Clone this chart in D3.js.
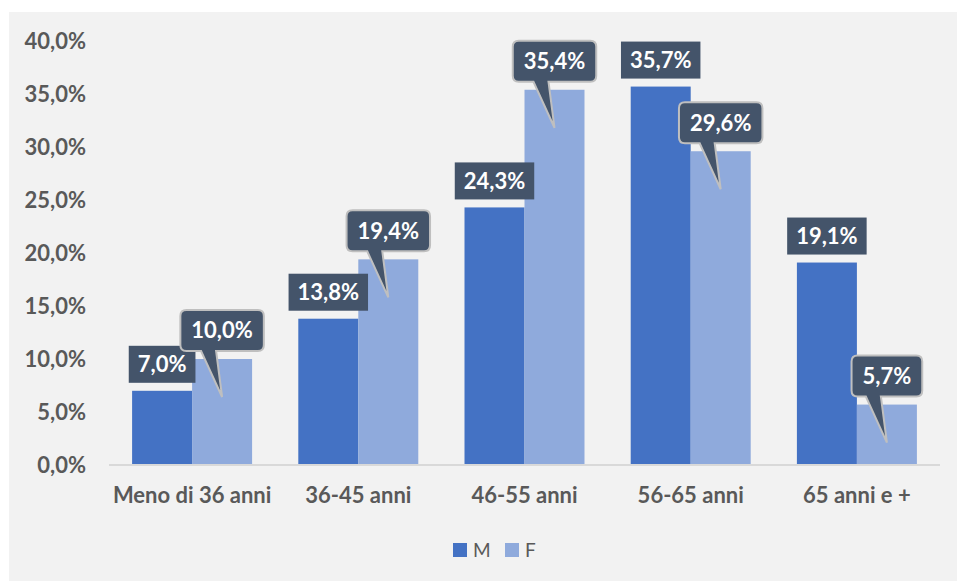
<!DOCTYPE html>
<html>
<head>
<meta charset="utf-8">
<script src="https://d3js.org/d3.v7.min.js"></script>
<style>
  body { margin: 0; background: #ffffff; }
  text { font-family: Lato, "Open Sans", sans-serif; }
</style>
</head>
<body>
<div id="chart"></div>
<script>
// dati
var categorie = ["Meno di 36 anni", "36-45 anni", "46-55 anni", "56-65 anni", "65 anni e +"];
var serieM = [7.0, 13.8, 24.3, 35.7, 19.1];
var serieF = [10.0, 19.4, 35.4, 29.6, 5.7];
var nomiSerie = ["M", "F"];
var coloriSerie = ["#4472c4", "#8faadc"];
var tickValori = [0, 5, 10, 15, 20, 25, 30, 35, 40];

var larghezza = 957, altezza = 581;
var sx = 109, dx = 940, alto = 41, base = 465;
var fs = "22px";

var it = d3.formatLocale({decimal: ",", thousands: ".", grouping: [3], currency: ["€", ""]});
var fmt = function(v) { return it.format(".1f")(v) + "%"; };

var svg = d3.select("#chart").append("svg")
  .attr("width", larghezza)
  .attr("height", altezza);

svg.append("rect")
  .attr("x", 9).attr("y", 12)
  .attr("width", larghezza - 9).attr("height", altezza - 12)
  .attr("fill", "#f2f2f2");

var x0 = d3.scaleBand().domain(categorie).range([sx, dx])
  .paddingInner(0.278).paddingOuter(0.139);
var x1 = d3.scaleBand().domain(nomiSerie).range([0, x0.bandwidth()]);
var y = d3.scaleLinear().domain([0, 40]).range([base, alto]);

// asse y
var yAxis = d3.axisLeft(y).tickValues(tickValori).tickSize(0).tickPadding(23).tickFormat(fmt);
var gy = svg.append("g").attr("transform", "translate(" + sx + ",0)").call(yAxis);
gy.select(".domain").remove();
gy.selectAll("text")
  .attr("fill", "#595959")
  .style("font-size", fs)
  .style("font-weight", "bold")
  .style("font-family", "Lato, sans-serif");

// barre
var righe = categorie.map(function(c, i) {
  return {cat: c, valori: [{s: "M", v: serieM[i]}, {s: "F", v: serieF[i]}]};
});

var gruppi = svg.selectAll(".gruppo").data(righe).enter().append("g")
  .attr("class", "gruppo")
  .attr("transform", function(d) { return "translate(" + x0(d.cat) + ",0)"; });

gruppi.selectAll("rect").data(function(d) { return d.valori; }).enter().append("rect")
  .attr("x", function(d) { return x1(d.s); })
  .attr("y", function(d) { return y(d.v); })
  .attr("width", x1.bandwidth())
  .attr("height", function(d) { return base - y(d.v); })
  .attr("fill", function(d) { return coloriSerie[nomiSerie.indexOf(d.s)]; });

// asse x
var xAxis = d3.axisBottom(x0).tickSize(0).tickPadding(22);
var gx = svg.append("g").attr("transform", "translate(0," + base + ")").call(xAxis);
gx.select(".domain").attr("stroke", "#d9d9d9").attr("stroke-width", 2)
  .attr("d", "M" + sx + ",0H" + dx);
gx.selectAll("text")
  .attr("fill", "#595959")
  .style("font-size", fs)
  .style("font-weight", "bold")
  .style("font-family", "Lato, sans-serif");

// etichette M: riquadri
gruppi.each(function(d) {
  var g = d3.select(this);
  var m = d.valori[0];
  var cx = x1("M") + x1.bandwidth() / 2;
  var t = g.append("text")
    .attr("x", cx).attr("y", y(m.v) - 8 - 18.5)
    .attr("text-anchor", "middle").attr("dy", "0.36em")
    .attr("fill", "#ffffff")
    .style("font-size", fs).style("font-weight", "bold")
    .text(fmt(m.v));
  var w = t.node().getComputedTextLength() + 18;
  g.insert("rect", "text")
    .attr("x", cx - w / 2).attr("y", y(m.v) - 8 - 37)
    .attr("width", w).attr("height", 37)
    .attr("fill", "#44546a");
});

// etichette F: fumetti
gruppi.each(function(d) {
  var g = d3.select(this);
  var f = d.valori[1];
  var cx = x1("F") + x1.bandwidth() / 2;
  var yb = y(f.v) - 8, ya = yb - 41, tipY = y(f.v) + 38;
  var path = g.append("path");
  var t = g.append("text")
    .attr("x", cx).attr("y", yb - 20.5)
    .attr("text-anchor", "middle").attr("dy", "0.36em")
    .attr("fill", "#ffffff")
    .style("font-size", fs).style("font-weight", "bold")
    .text(fmt(f.v));
  var w = t.node().getComputedTextLength() + 22;
  var xa = cx - w / 2, xb = cx + w / 2, r = 6;
  var p = d3.path();
  p.moveTo(xa + r, ya);
  p.lineTo(xb - r, ya);
  p.quadraticCurveTo(xb, ya, xb, ya + r);
  p.lineTo(xb, yb - r);
  p.quadraticCurveTo(xb, yb, xb - r, yb);
  p.lineTo(cx - 6, yb);
  p.lineTo(cx, tipY);
  p.lineTo(cx - 21, yb);
  p.lineTo(xa + r, yb);
  p.quadraticCurveTo(xa, yb, xa, yb - r);
  p.lineTo(xa, ya + r);
  p.quadraticCurveTo(xa, ya, xa + r, ya);
  p.closePath();
  path.attr("d", p.toString())
    .attr("fill", "#44546a")
    .attr("stroke", "#bfbfbf")
    .attr("stroke-width", 2);
});

// legenda
var leg = svg.append("g");
var legX = [453, 505];
nomiSerie.forEach(function(s, i) {
  leg.append("rect").attr("x", legX[i]).attr("y", 543)
    .attr("width", 14).attr("height", 14).attr("fill", coloriSerie[i]);
  leg.append("text").attr("x", legX[i] + 20).attr("y", 557)
    .attr("fill", "#595959").style("font-size", "19px")
    .text(s);
});
</script>
</body>
</html>
